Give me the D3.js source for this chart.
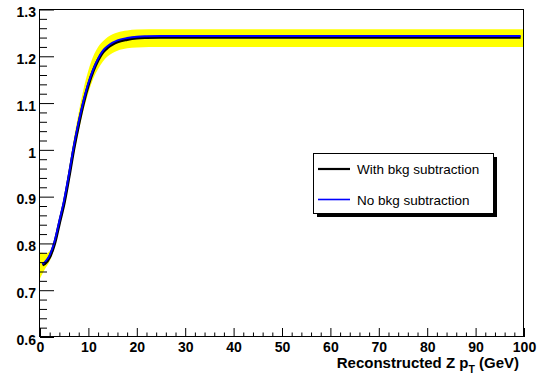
<!DOCTYPE html>
<html>
<head>
<meta charset="utf-8">
<script src="https://cdn.jsdelivr.net/npm/d3@7"></script>
<style>
  html, body { margin: 0; padding: 0; background: #fff; }
  svg { display: block; }
  text { font-family: "Liberation Sans", Arial, Helvetica, sans-serif; }
</style>
</head>
<body>
<svg id="chart" width="544" height="379"></svg>
<script>
// ---- data ----
const curveX = [0.5, 1, 2, 3, 4, 5, 6, 7, 8, 9, 10, 11, 12, 13, 14, 15, 16, 18, 20, 22, 25, 30, 40, 50, 60, 70, 80, 90, 99.3];
const withBkg = [0.754, 0.757, 0.771, 0.799, 0.843, 0.887, 0.943, 1.003, 1.055, 1.101, 1.139, 1.169, 1.192, 1.209, 1.219, 1.226, 1.231, 1.236, 1.239, 1.240, 1.2405, 1.2405, 1.2405, 1.2405, 1.2405, 1.2405, 1.2405, 1.2405, 1.2405];
const noBkg   = [0.756, 0.760, 0.775, 0.804, 0.848, 0.893, 0.949, 1.009, 1.060, 1.105, 1.143, 1.172, 1.195, 1.212, 1.222, 1.229, 1.234, 1.239, 1.242, 1.243, 1.2435, 1.2435, 1.2435, 1.2435, 1.2435, 1.2435, 1.2435, 1.2435, 1.2435];
const bandX  = [0, 0.5, 1, 2, 3, 4, 5, 6, 7, 8, 9, 10, 11, 12, 13, 14, 15, 16, 18, 20, 25, 30, 40, 50, 60, 70, 80, 90, 99.8];
const bandLo = [0.725, 0.735, 0.745, 0.762, 0.792, 0.835, 0.876, 0.932, 0.990, 1.040, 1.085, 1.122, 1.152, 1.173, 1.189, 1.200, 1.207, 1.212, 1.217, 1.219, 1.220, 1.220, 1.220, 1.220, 1.220, 1.220, 1.220, 1.220, 1.220];
const bandHi = [0.780, 0.780, 0.778, 0.784, 0.808, 0.855, 0.900, 0.960, 1.024, 1.080, 1.130, 1.170, 1.200, 1.220, 1.232, 1.241, 1.247, 1.251, 1.255, 1.257, 1.258, 1.258, 1.258, 1.258, 1.258, 1.258, 1.258, 1.258, 1.258];
const xMajorTicks = [0, 10, 20, 30, 40, 50, 60, 70, 80, 90, 100];
const yMajorTicks = [0.6, 0.7, 0.8, 0.9, 1.0, 1.1, 1.2, 1.3];
const legendLabels = ["With bkg subtraction", "No bkg subtraction"];
const seriesColors = ["#000000", "#0000ff"];
const xTitle = "Reconstructed Z p";
const xTitleSub = "T";
const xTitleUnit = " (GeV)";

// ---- layout ----
const svg = d3.select("#chart");
const x = d3.scaleLinear().domain([0, 100]).range([40, 524]);
const y = d3.scaleLinear().domain([0.6, 1.3]).range([337, 9.5]);

// band
const bandData = bandX.map((v, i) => ({x: v, lo: bandLo[i], hi: bandHi[i]}));
svg.append("path")
  .datum(bandData)
  .attr("fill", "#ffff00")
  .attr("stroke", "none")
  .attr("d", d3.area().x(d => x(d.x)).y0(d => y(d.lo)).y1(d => y(d.hi)).curve(d3.curveMonotoneX));

// curves
const line = d3.line().x(d => x(d[0])).y(d => y(d[1])).curve(d3.curveMonotoneX);
svg.append("path")
  .datum(curveX.map((v, i) => [v, withBkg[i]]))
  .attr("fill", "none").attr("stroke", seriesColors[0]).attr("stroke-width", 3)
  .attr("d", line);
svg.append("path")
  .datum(curveX.map((v, i) => [v, noBkg[i]]))
  .attr("fill", "none").attr("stroke", seriesColors[1]).attr("stroke-width", 2)
  .attr("d", line);

// minor ticks
const xMinor = d3.range(0, 101, 2).filter(v => v % 10 !== 0);
const yMinor = d3.range(60, 131, 2).map(v => v / 100).filter(v => Math.round(v * 100) % 10 !== 0);

const gx = svg.append("g").attr("transform", "translate(0,337)");
gx.call(d3.axisBottom(x).tickValues(xMinor).tickSize(-4.5).tickFormat(""));
gx.call(g => g.select(".domain").remove());
const gx2 = svg.append("g").attr("transform", "translate(0,337)");
gx2.call(d3.axisBottom(x).tickValues(xMajorTicks).tickSize(-9).tickPadding(5).tickFormat(d3.format("d")));
gx2.select(".domain").remove();
gx2.selectAll("text").attr("font-size", 14).attr("font-weight", "bold").attr("fill", "#000")
  .attr("font-family", "Liberation Sans, Arial, sans-serif").attr("y", 14.5).attr("dy", 0);

const gy = svg.append("g").attr("transform", "translate(40,0)");
gy.call(d3.axisLeft(y).tickValues(yMinor).tickSize(-7).tickFormat(""));
gy.select(".domain").remove();
const gy2 = svg.append("g").attr("transform", "translate(40,0)");
gy2.call(d3.axisLeft(y).tickValues(yMajorTicks).tickSize(-14).tickPadding(4).tickFormat(d => d3.format("")(+d.toFixed(1))));
gy2.select(".domain").remove();
gy2.selectAll("text").attr("font-size", 14).attr("font-weight", "bold").attr("fill", "#000")
  .attr("font-family", "Liberation Sans, Arial, sans-serif").attr("dy", 7.3);
svg.selectAll(".tick line").attr("stroke", "#000");

// frame
svg.append("rect")
  .attr("x", 39.5).attr("y", 9.5).attr("width", 484).attr("height", 327)
  .attr("fill", "none").attr("stroke", "#000").attr("stroke-width", 1);

// axis title
const t = svg.append("text")
  .attr("x", 519).attr("y", 368)
  .attr("text-anchor", "end").attr("font-size", 15).attr("font-weight", "bold").attr("fill", "#000");
t.append("tspan").text(xTitle);
t.append("tspan").attr("font-size", 10.5).attr("dy", 5).text(xTitleSub);
t.append("tspan").attr("dy", -5).text(xTitleUnit);

// legend
const lg = svg.append("g");
lg.append("rect").attr("x", 317).attr("y", 157).attr("width", 180).attr("height", 60).attr("fill", "#000");
lg.append("rect").attr("x", 313.5).attr("y", 153.5).attr("width", 180).attr("height", 60)
  .attr("fill", "#fff").attr("stroke", "#000").attr("stroke-width", 1);
const legY = [169, 199.5];
const legW = [2.2, 1.6];
legendLabels.forEach((lab, i) => {
  lg.append("line").attr("x1", 318).attr("x2", 350).attr("y1", legY[i]).attr("y2", legY[i])
    .attr("stroke", seriesColors[i]).attr("stroke-width", legW[i]);
  lg.append("text").attr("x", 357).attr("y", legY[i] + 5)
    .attr("font-size", 13.5).attr("fill", "#000").text(lab);
});
</script>
</body>
</html>
